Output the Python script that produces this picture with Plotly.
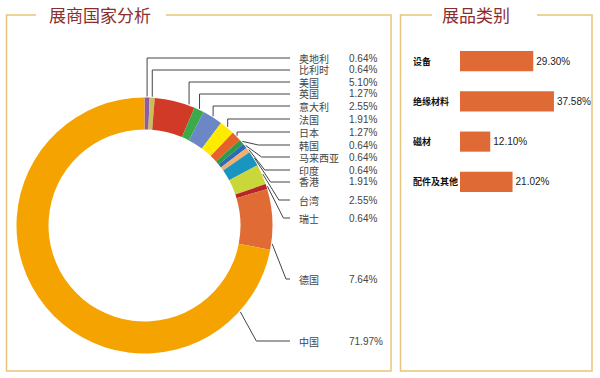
import math
import plotly.graph_objects as go

W, H = 600, 378

# ---------------- data ----------------
countries = ["奥地利", "比利时", "美国", "英国", "意大利", "法国", "日本", "韩国",
             "马来西亚", "印度", "香港", "台湾", "瑞士", "德国", "中国"]
country_pct = [0.64, 0.64, 5.10, 1.27, 2.55, 1.91, 1.27, 0.64,
               0.64, 0.64, 1.91, 2.55, 0.64, 7.64, 71.97]

categories = ["设备", "绝缘材料", "磁材", "配件及其他"]
category_pct = [29.30, 37.58, 12.10, 21.02]

# ---------------- styles / layout constants ----------------
country_colors = ["#8E5BA8", "#C9BF5A", "#D03A27", "#3DAA4A", "#6C87C6", "#FFEB00",
                  "#E5632B", "#2E9B48", "#2A6CB5", "#F4AE6E", "#1A95BF", "#C9D73A",
                  "#B8252B", "#E06B35", "#F5A300"]
bar_color = "#E06A35"
frame_color = "#E8C47A"
title_color = "#8B2D2E"
cjk = "Noto Sans CJK SC"
latin = "Liberation Sans, Noto Sans CJK SC"

label_y = [58, 70, 82, 94, 106, 119, 132, 145, 157, 170, 182, 200, 218, 279, 341]
attach_frac = [0.5, 0.5, 0.85, 0.5, 0.5, 0.5, 0.5, 0.5, 0.5, 0.5, 0.5, 0.5, 0.5, 0.9, 0.12]
n_vertical = 7
cx, cy, R = 144.5, 225.5, 128.0


def px(x):
    return x / W


def py(y):
    return 1 - y / H


fig = go.Figure()

fig.add_trace(go.Pie(
    values=country_pct, labels=countries, sort=False, direction="clockwise",
    rotation=0, hole=0.75, textinfo="none", showlegend=False, hoverinfo="label+value",
    marker=dict(colors=country_colors, line=dict(width=0)),
    domain=dict(x=[px(cx - R), px(cx + R)], y=[py(cy + R), py(cy - R)]),
))

fig.add_trace(go.Bar(
    x=category_pct, y=categories, orientation="h", marker_color=bar_color,
    marker_line_width=0,
    text=[f"{v:.2f}%" for v in category_pct], textposition="outside",
    textfont=dict(size=10, color="#222", family=latin), cliponaxis=False,
    showlegend=False, hoverinfo="x+y",
))

shapes = []
annotations = []

# leader lines + labels for the donut
total = sum(country_pct)
cum = 0.0
for i, (name, v) in enumerate(zip(countries, country_pct)):
    a = 2 * math.pi * (cum + attach_frac[i] * v) / total
    cum += v
    x0 = cx + (R + 1) * math.sin(a)
    y0 = cy - (R + 1) * math.cos(a)
    ly = label_y[i]
    if i < n_vertical:
        ex = x0
    else:
        ex = min(x0 + 16, 286)
    path = f"M {px(x0)},{py(y0)} L {px(ex)},{py(ly)} L {px(290)},{py(ly)}"
    shapes.append(dict(type="path", path=path, xref="paper", yref="paper",
                       line=dict(color="#444", width=1)))
    annotations.append(dict(x=px(297), y=py(ly), xref="paper", yref="paper",
                            text=name, showarrow=False, xanchor="left", yanchor="middle",
                            font=dict(size=10, color="#444", family=cjk)))
    annotations.append(dict(x=px(347), y=py(ly), xref="paper", yref="paper",
                            text=f"{v:.2f}%", showarrow=False, xanchor="left", yanchor="middle",
                            font=dict(size=10, color="#444", family=latin)))

# bar category labels
for c in categories:
    annotations.append(dict(x=px(411), y=c, xref="paper", yref="y", text=c,
                            showarrow=False, xanchor="left", yanchor="middle",
                            font=dict(size=9, color="#111", family=cjk, weight="bold")))

# frames
def frame(pts):
    d = "M " + " L ".join(f"{px(x)},{py(y)}" for x, y in pts)
    return dict(type="path", path=d, xref="paper", yref="paper",
                line=dict(color=frame_color, width=1.5))

shapes.append(frame([(36, 15), (6.5, 15), (6.5, 371), (391, 371), (391, 15), (166, 15)]))
shapes.append(frame([(432, 15), (400.5, 15), (400.5, 371), (592, 371), (592, 15), (537, 15)]))

# titles
annotations.append(dict(x=px(100), y=py(15), xref="paper", yref="paper", text="展商国家分析",
                        showarrow=False, xanchor="center", yanchor="middle",
                        font=dict(size=17, color=title_color, family=cjk)))
annotations.append(dict(x=px(475.5), y=py(15), xref="paper", yref="paper", text="展品类别",
                        showarrow=False, xanchor="center", yanchor="middle",
                        font=dict(size=17, color=title_color, family=cjk)))

fig.update_layout(
    width=W, height=H, margin=dict(l=0, r=0, t=0, b=0),
    paper_bgcolor="white", plot_bgcolor="white",
    shapes=shapes, annotations=annotations, bargap=0.5,
    xaxis=dict(domain=[px(460), px(580)], range=[0, 48], visible=False, fixedrange=True),
    yaxis=dict(domain=[py(202), py(41)], autorange="reversed", visible=False,
               type="category", fixedrange=True),
)

fig.write_html("out.html", config={"displayModeBar": False},
               post_script="document.body.style.margin='0';document.body.style.overflow='hidden';")
